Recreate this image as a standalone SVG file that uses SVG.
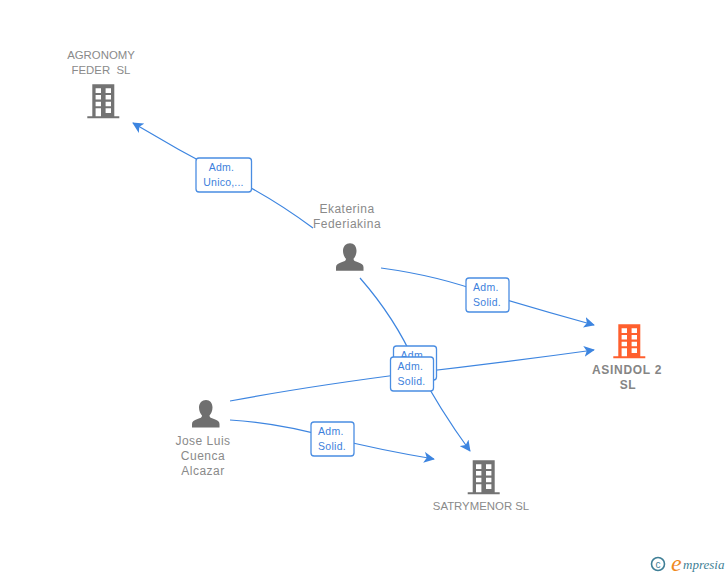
<svg xmlns="http://www.w3.org/2000/svg" width="728" height="575" viewBox="0 0 728 575">
<style>
text{font-family:"Liberation Sans",Arial,sans-serif}
.n{font-size:12px;fill:#8a8a8a;text-anchor:middle;letter-spacing:.5px}
.c{font-size:11.400px;fill:#8a8a8a;text-anchor:middle}
.b{font-weight:bold;font-size:12px;fill:#858585;text-anchor:middle;letter-spacing:.7px}
.l{fill:none;stroke:#3d85e0;stroke-width:1.200}
.box{fill:#fff;stroke:#4a8de2;stroke-width:1.300}
.t{font-size:10.500px;fill:#3d7fdc;letter-spacing:.3px}
.tc{font-size:10.500px;fill:#3d7fdc;text-anchor:middle;letter-spacing:.2px}
</style>
<defs>
<marker id="a" viewBox="0 0 12 12" refX="11" refY="6" markerWidth="11" markerHeight="11" markerUnits="userSpaceOnUse" orient="auto"><path d="M0 0L12 6L0 12L3 6Z" fill="#3d85e0"/></marker>
<symbol id="bld" overflow="visible"><path fill-rule="evenodd" d="M5 0H27V32H32V34H0V32H5ZM8.300 4V8.700H13.700V4ZM18.300 4V8.700H23.700V4ZM8.300 10.700V15.300H13.700V10.700ZM18.300 10.700V15.300H23.700V10.700ZM8.300 17.400V22H13.700V17.400ZM18.300 17.400V22H23.700V17.400ZM8.300 24V32H13.700V24ZM18.300 24V28.700H23.700V24Z"/></symbol>
<symbol id="per" overflow="visible"><path d="M14 0C18 0 20.500 3 20.500 7.500C20.500 11 19 14 17.500 15.500C17.500 17.500 19 18 22 19C25.500 20.200 27.500 21.500 27.500 24V27.500H0V24C0 21.500 2 20.200 5.500 19C8.500 18 10 17.500 10 15.500C8.500 14 7 11 7 7.500C7 3 10 0 14 0Z" fill="#6f6f6f"/></symbol>
</defs>
<g id="connectors">
<path class="l" marker-end="url(#a)" d="M313 228Q270 196 224 174Q178 150 133 123"/>
<path class="l" marker-end="url(#a)" d="M381 268Q440 276 487 294Q540 310 594 325"/>
<path class="l" marker-end="url(#a)" d="M360 278Q395 318 415 363Q440 410 470 451"/>
<path class="l" marker-end="url(#a)" d="M230 401Q310 386 412 373Q500 363 594 350"/>
<path class="l" marker-end="url(#a)" d="M230 420Q280 423 332 438Q380 450 434 459"/>
</g>
<g id="node-agronomy">
<text class="c" x="101" y="59">AGRONOMY</text>
<text class="c" x="101" y="74">FEDER&#160; SL</text>
<use href="#bld" x="87.300" y="84.300" fill="#737373"/>
</g>
<g id="node-ekaterina">
<text class="n" x="347" y="213">Ekaterina</text>
<text class="n" x="347" y="228">Federiakina</text>
<use href="#per" x="336" y="243.300"/>
</g>
<g id="node-asindol">
<use href="#bld" x="613.300" y="324.300" fill="#ff5f2e"/>
<text class="b" x="627" y="374">ASINDOL 2</text>
<text class="b" x="628" y="389">SL</text>
</g>
<g id="node-jose">
<use href="#per" x="192" y="400"/>
<text class="n" x="203" y="445">Jose Luis</text>
<text class="n" x="203" y="460">Cuenca</text>
<text class="n" x="203" y="475">Alcazar</text>
</g>
<g id="node-satrymenor">
<use href="#bld" x="467.700" y="460.300" fill="#737373"/>
<text class="c" x="481" y="510">SATRYMENOR SL</text>
</g>
<g id="label-unico">
<rect class="box" x="196" y="158" width="55.500" height="34" rx="3"/>
<text class="tc" x="221.500" y="171">Adm.</text>
<text class="tc" x="223.500" y="186">Unico,...</text>
</g>
<g id="label-solid-1">
<rect class="box" x="466" y="278" width="43" height="34" rx="3"/>
<text class="t" x="473" y="291">Adm.</text>
<text class="t" x="473" y="306">Solid.</text>
</g>
<g id="label-solid-2">
<rect class="box" x="393.500" y="346" width="43" height="34" rx="3"/>
<text class="t" x="400.500" y="359">Adm.</text>
<text class="t" x="400.500" y="374">Solid.</text>
</g>
<g id="label-solid-3">
<rect class="box" x="390.500" y="357" width="43" height="34" rx="3"/>
<text class="t" x="397.500" y="370">Adm.</text>
<text class="t" x="397.500" y="385">Solid.</text>
</g>
<g id="label-solid-4">
<rect class="box" x="311" y="422" width="43" height="34" rx="3"/>
<text class="t" x="318" y="435">Adm.</text>
<text class="t" x="318" y="450">Solid.</text>
</g>
<g id="logo">
<circle cx="658" cy="564" r="6.500" fill="none" stroke="#3f7f96" stroke-width="1.600"/>
<text x="658" y="567.500" font-size="10" fill="#3f7f96" text-anchor="middle">c</text>
<text x="671" y="571" font-size="24" font-style="italic" fill="#f08a1d" style="font-family:'Liberation Serif',serif">e</text>
<text x="683" y="569" font-size="13" font-style="italic" fill="#3f7f96" style="font-family:'Liberation Serif',serif">mpresia</text>
</g>
</svg>
